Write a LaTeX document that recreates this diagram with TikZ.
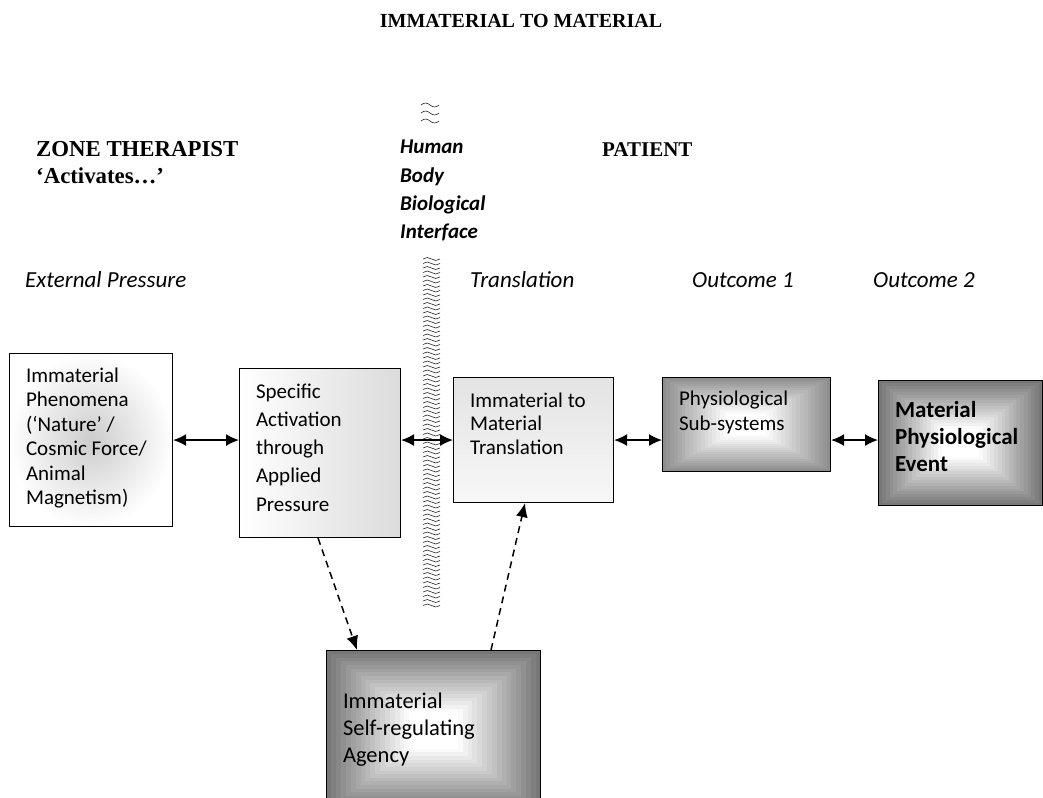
\documentclass[tikz,border=0pt]{standalone}
\usepackage{fontspec}
\setmainfont{Liberation Serif}
\newfontfamily\calibri{Carlito}
\usetikzlibrary{arrows.meta,calc}
\definecolor{edgemid}{HTML}{8E8E8E}
\definecolor{edgedark}{HTML}{777777}
\newcommand{\boxbody}[4]{\parbox[c][#2pt][t]{#1pt}{\raggedright\leftskip=16.5pt\vspace*{#3pt}#4}}

\begin{document}
\begin{tikzpicture}[x=1pt, y=-1pt, head/.style={font=\bfseries\fontsize{21}{27}\selectfont, inner sep=0pt, align=left}, stage/.style={font=\calibri\itshape\fontsize{23}{28}\selectfont, anchor=base west, inner sep=0pt}, box/.style={draw, line width=1.1pt, anchor=north west, inner sep=0pt, font=\calibri\fontsize{21}{#1}\selectfont}, box/.default=25, fade/.style={path picture={\foreach \k [evaluate=\k as \pct using {int(min(100,6*\k))}] in {0,...,20} \fill[white!\pct!#1] ($(path picture bounding box.south west)!\k/44!(path picture bounding box.north east)$) rectangle ($(path picture bounding box.north east)!\k/44!(path picture bounding box.south west)$);}}, link/.style={{Latex[length=13pt,width=12pt]}-{Latex[length=13pt,width=12pt]}, line width=1.5pt}, feed/.style={-{Latex[length=14pt,width=12pt]}, line width=1.5pt, dash pattern=on 7pt off 5pt}, wave/.style={line width=0.6pt, black!85}]
\useasboundingbox (0,0) rectangle (1043,797);
\clip (0,0) rectangle (1043,797);
% headings
\node[head, font=\bfseries\fontsize{20}{27}\selectfont, anchor=base] (title) at (521,28) {IMMATERIAL TO MATERIAL};
\node[head, font=\bfseries\fontsize{22.8}{27}\selectfont, anchor=north west] (h1) at (36,141) {ZONE THERAPIST\\‘Activates…’};
\node[head, anchor=base west] (h2) at (602,156) {PATIENT};
\node[font=\calibri\bfseries\itshape\fontsize{21}{28.3}\selectfont, inner sep=0pt, align=left, anchor=north west] (h3) at (400,140) {Human\\Body\\Biological\\Interface};
% stages
\node[stage] (l1) at (25,287) {External Pressure};
\node[stage] (l2) at (470,287) {Translation};
\node[stage] (l3) at (692,287) {Outcome 1};
\node[stage] (l4) at (873,287) {Outcome 2};
% interface
\foreach \y in {105,113,121}
  \draw[wave] (421,\y) sin (425.5,\y-2) cos (430,\y) sin (434.5,\y+2) cos (439,\y);
\foreach \y in {259,263.5,...,608}
  \draw[wave] (423,\y) sin (427.25,\y-1.5) cos (431.5,\y) sin (435.75,\y+1.5) cos (440,\y);
% boxes
\node[box=24.4, inner color=gray!40, outer color=white] (b1) at (9,353) {\boxbody{163}{173}{14.3}{Immaterial\\Phenomena\\(‘Nature’ /\\Cosmic Force/\\Animal\\Magnetism)}};
\node[box=28.25, left color=white, right color=gray!28] (b2) at (239,368) {\boxbody{161}{169}{15}{Specific\\Activation\\through\\Applied\\Pressure}};
\node[box=23.5, top color=gray!22, bottom color=gray!6] (b3) at (453,377) {\boxbody{160}{125}{15.3}{Immaterial to\\Material\\Translation}};
\node[box=25, fade=edgemid] (b4) at (662,377) {\boxbody{168}{94}{13.3}{Physiological\\Sub-systems}};
\node[box=27, fade=edgedark, font=\calibri\bfseries\fontsize{23}{27}\selectfont] (b5) at (878,380) {\boxbody{164}{125}{20.9}{Material\\Physiological\\Event}};
\node[box=27, fade=edgedark, font=\calibri\fontsize{22.5}{27}\selectfont] (b6) at (326,650) {\boxbody{214}{160}{42.3}{Immaterial\\Self-regulating\\Agency}};
% connectors
\draw[link] (b1.east |- b3.center) -- (b2.west |- b3.center);
\draw[link] (b2.east |- b3.center) -- (b3.west);
\draw[link] (b3.east) -- (b4.west |- b3.center);
\draw[link] (b4.east |- b3.center) -- (b5.west |- b3.center);
\draw[feed] ([xshift=-2pt]b2.south) -- ([xshift=31pt]b6.north west);
\draw[feed] ([xshift=165pt]b6.north west) -- ([xshift=72pt]b3.south west);
\end{tikzpicture}
\end{document}
